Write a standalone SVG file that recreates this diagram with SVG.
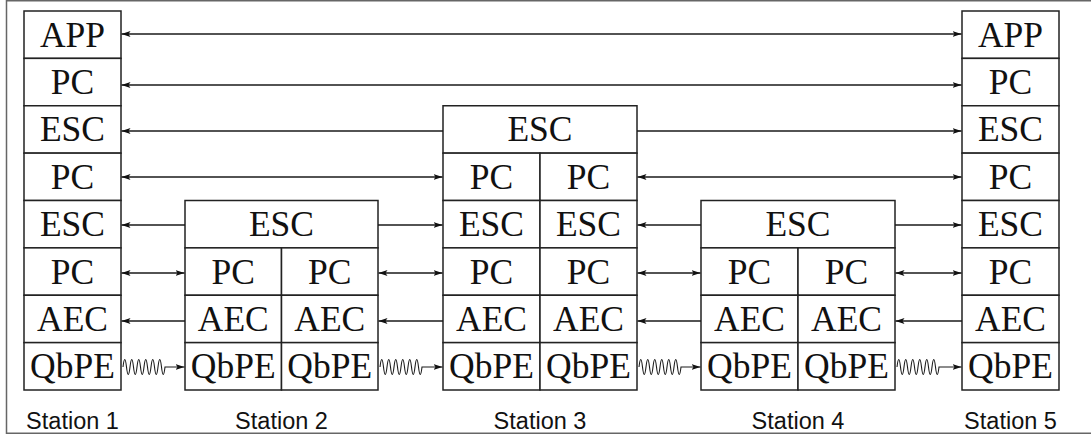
<svg xmlns="http://www.w3.org/2000/svg" width="1091" height="439" viewBox="0 0 1091 439">
<style>
.box{fill:#fff;stroke:#222;stroke-width:1.5}
.t{font-family:"Liberation Serif","Times New Roman",serif;font-size:35.5px;fill:#111;text-anchor:middle}
.lbl{font-family:"Liberation Sans",Arial,sans-serif;font-size:23.5px;fill:#111;text-anchor:middle}
.ln{fill:none;stroke:#1a1a1a;stroke-width:1.4}
.one{marker-end:url(#ah)}
.two{marker-start:url(#ah);marker-end:url(#ah)}
.wv{fill:none;stroke:#1a1a1a;stroke-width:1.1;marker-end:url(#ah)}
</style>
<defs>
<marker id="ah" markerUnits="userSpaceOnUse" markerWidth="10" markerHeight="8" refX="9" refY="3" orient="auto-start-reverse">
<path d="M0,0 L9,3 L0,6 L2,3 z" fill="#111"/>
</marker>
</defs>
<rect x="6.5" y="0.75" width="1090" height="432.5" fill="#fff" stroke="#666" stroke-width="1.5"/>

<g id="station1">
<rect class="box" x="24" y="11" width="97" height="47.375"/><text class="t" x="72.5" y="46.7">APP</text>
<rect class="box" x="24" y="58.375" width="97" height="47.375"/><text class="t" x="72.5" y="94.1">PC</text>
<rect class="box" x="24" y="105.75" width="97" height="47.375"/><text class="t" x="72.5" y="141.4">ESC</text>
<rect class="box" x="24" y="153.125" width="97" height="47.375"/><text class="t" x="72.5" y="188.8">PC</text>
<rect class="box" x="24" y="200.5" width="97" height="47.375"/><text class="t" x="72.5" y="236.2">ESC</text>
<rect class="box" x="24" y="247.875" width="97" height="47.375"/><text class="t" x="72.5" y="283.6">PC</text>
<rect class="box" x="24" y="295.25" width="97" height="47.375"/><text class="t" x="72.5" y="330.9">AEC</text>
<rect class="box" x="24" y="342.625" width="97" height="47.375"/><text class="t" x="72.5" y="378.3">QbPE</text>
<text class="lbl" x="72.5" y="429">Station 1</text>
</g>

<g id="station2">
<rect class="box" x="185" y="200.5" width="193" height="47.375"/><text class="t" x="281.5" y="236.2">ESC</text>
<rect class="box" x="185" y="247.875" width="96.5" height="47.375"/><text class="t" x="233.25" y="283.6">PC</text>
<rect class="box" x="281.5" y="247.875" width="96.5" height="47.375"/><text class="t" x="329.75" y="283.6">PC</text>
<rect class="box" x="185" y="295.25" width="96.5" height="47.375"/><text class="t" x="233.25" y="330.9">AEC</text>
<rect class="box" x="281.5" y="295.25" width="96.5" height="47.375"/><text class="t" x="329.75" y="330.9">AEC</text>
<rect class="box" x="185" y="342.625" width="96.5" height="47.375"/><text class="t" x="233.25" y="378.3">QbPE</text>
<rect class="box" x="281.5" y="342.625" width="96.5" height="47.375"/><text class="t" x="329.75" y="378.3">QbPE</text>
<text class="lbl" x="281.5" y="429">Station 2</text>
</g>

<g id="station3">
<rect class="box" x="443" y="105.75" width="194" height="47.375"/><text class="t" x="540" y="141.4">ESC</text>
<rect class="box" x="443" y="153.125" width="97" height="47.375"/><text class="t" x="491.5" y="188.8">PC</text>
<rect class="box" x="540" y="153.125" width="97" height="47.375"/><text class="t" x="588.5" y="188.8">PC</text>
<rect class="box" x="443" y="200.5" width="97" height="47.375"/><text class="t" x="491.5" y="236.2">ESC</text>
<rect class="box" x="540" y="200.5" width="97" height="47.375"/><text class="t" x="588.5" y="236.2">ESC</text>
<rect class="box" x="443" y="247.875" width="97" height="47.375"/><text class="t" x="491.5" y="283.6">PC</text>
<rect class="box" x="540" y="247.875" width="97" height="47.375"/><text class="t" x="588.5" y="283.6">PC</text>
<rect class="box" x="443" y="295.25" width="97" height="47.375"/><text class="t" x="491.5" y="330.9">AEC</text>
<rect class="box" x="540" y="295.25" width="97" height="47.375"/><text class="t" x="588.5" y="330.9">AEC</text>
<rect class="box" x="443" y="342.625" width="97" height="47.375"/><text class="t" x="491.5" y="378.3">QbPE</text>
<rect class="box" x="540" y="342.625" width="97" height="47.375"/><text class="t" x="588.5" y="378.3">QbPE</text>
<text class="lbl" x="540" y="429">Station 3</text>
</g>

<g id="station4">
<rect class="box" x="701" y="200.5" width="194" height="47.375"/><text class="t" x="798" y="236.2">ESC</text>
<rect class="box" x="701" y="247.875" width="97" height="47.375"/><text class="t" x="749.5" y="283.6">PC</text>
<rect class="box" x="798" y="247.875" width="97" height="47.375"/><text class="t" x="846.5" y="283.6">PC</text>
<rect class="box" x="701" y="295.25" width="97" height="47.375"/><text class="t" x="749.5" y="330.9">AEC</text>
<rect class="box" x="798" y="295.25" width="97" height="47.375"/><text class="t" x="846.5" y="330.9">AEC</text>
<rect class="box" x="701" y="342.625" width="97" height="47.375"/><text class="t" x="749.5" y="378.3">QbPE</text>
<rect class="box" x="798" y="342.625" width="97" height="47.375"/><text class="t" x="846.5" y="378.3">QbPE</text>
<text class="lbl" x="798" y="429">Station 4</text>
</g>

<g id="station5">
<rect class="box" x="962" y="11" width="97" height="47.375"/><text class="t" x="1010.5" y="46.7">APP</text>
<rect class="box" x="962" y="58.375" width="97" height="47.375"/><text class="t" x="1010.5" y="94.1">PC</text>
<rect class="box" x="962" y="105.75" width="97" height="47.375"/><text class="t" x="1010.5" y="141.4">ESC</text>
<rect class="box" x="962" y="153.125" width="97" height="47.375"/><text class="t" x="1010.5" y="188.8">PC</text>
<rect class="box" x="962" y="200.5" width="97" height="47.375"/><text class="t" x="1010.5" y="236.2">ESC</text>
<rect class="box" x="962" y="247.875" width="97" height="47.375"/><text class="t" x="1010.5" y="283.6">PC</text>
<rect class="box" x="962" y="295.25" width="97" height="47.375"/><text class="t" x="1010.5" y="330.9">AEC</text>
<rect class="box" x="962" y="342.625" width="97" height="47.375"/><text class="t" x="1010.5" y="378.3">QbPE</text>
<text class="lbl" x="1010.5" y="429">Station 5</text>
</g>

<g id="connectors">
<line class="ln two" x1="121.5" y1="34" x2="961.5" y2="34"/>
<line class="ln two" x1="121.5" y1="85" x2="961.5" y2="85"/>
<line class="ln one" x1="443" y1="131" x2="121.5" y2="131"/>
<line class="ln one" x1="637" y1="131" x2="961.5" y2="131"/>
<line class="ln two" x1="121.5" y1="177" x2="442.5" y2="177"/>
<line class="ln two" x1="637.5" y1="177" x2="961.5" y2="177"/>
<line class="ln one" x1="185" y1="225" x2="121.5" y2="225"/>
<line class="ln one" x1="378" y1="225" x2="442.5" y2="225"/>
<line class="ln one" x1="701" y1="225" x2="637.5" y2="225"/>
<line class="ln one" x1="895" y1="225" x2="961.5" y2="225"/>
<line class="ln two" x1="121.5" y1="273" x2="184.5" y2="273"/>
<line class="ln two" x1="378.5" y1="273" x2="442.5" y2="273"/>
<line class="ln two" x1="637.5" y1="273" x2="700.5" y2="273"/>
<line class="ln two" x1="895.5" y1="273" x2="961.5" y2="273"/>
<line class="ln one" x1="185" y1="321" x2="121.5" y2="321"/>
<line class="ln one" x1="443" y1="321" x2="378.5" y2="321"/>
<line class="ln one" x1="701" y1="321" x2="637.5" y2="321"/>
<line class="ln one" x1="962" y1="321" x2="895.5" y2="321"/>
<path class="wv" d="M123,367 q1.75,-15 3.5,0 q1.75,15 3.5,0 q1.75,-15 3.5,0 q1.75,15 3.5,0 q1.75,-15 3.5,0 q1.75,15 3.5,0 q1.75,-15 3.5,0 q1.75,15 3.5,0 q1.75,-15 3.5,0 q1.75,15 3.5,0 q1.75,-15 3.5,0 q1.75,15 3.5,0 L184.5,367"/>
<path class="wv" d="M380,367 q1.75,-15 3.5,0 q1.75,15 3.5,0 q1.75,-15 3.5,0 q1.75,15 3.5,0 q1.75,-15 3.5,0 q1.75,15 3.5,0 q1.75,-15 3.5,0 q1.75,15 3.5,0 q1.75,-15 3.5,0 q1.75,15 3.5,0 q1.75,-15 3.5,0 q1.75,15 3.5,0 L442.5,367"/>
<path class="wv" d="M639,367 q1.75,-15 3.5,0 q1.75,15 3.5,0 q1.75,-15 3.5,0 q1.75,15 3.5,0 q1.75,-15 3.5,0 q1.75,15 3.5,0 q1.75,-15 3.5,0 q1.75,15 3.5,0 q1.75,-15 3.5,0 q1.75,15 3.5,0 q1.75,-15 3.5,0 q1.75,15 3.5,0 L700.5,367"/>
<path class="wv" d="M897,367 q1.75,-15 3.5,0 q1.75,15 3.5,0 q1.75,-15 3.5,0 q1.75,15 3.5,0 q1.75,-15 3.5,0 q1.75,15 3.5,0 q1.75,-15 3.5,0 q1.75,15 3.5,0 q1.75,-15 3.5,0 q1.75,15 3.5,0 q1.75,-15 3.5,0 q1.75,15 3.5,0 L961.5,367"/>
</g>
</svg>
